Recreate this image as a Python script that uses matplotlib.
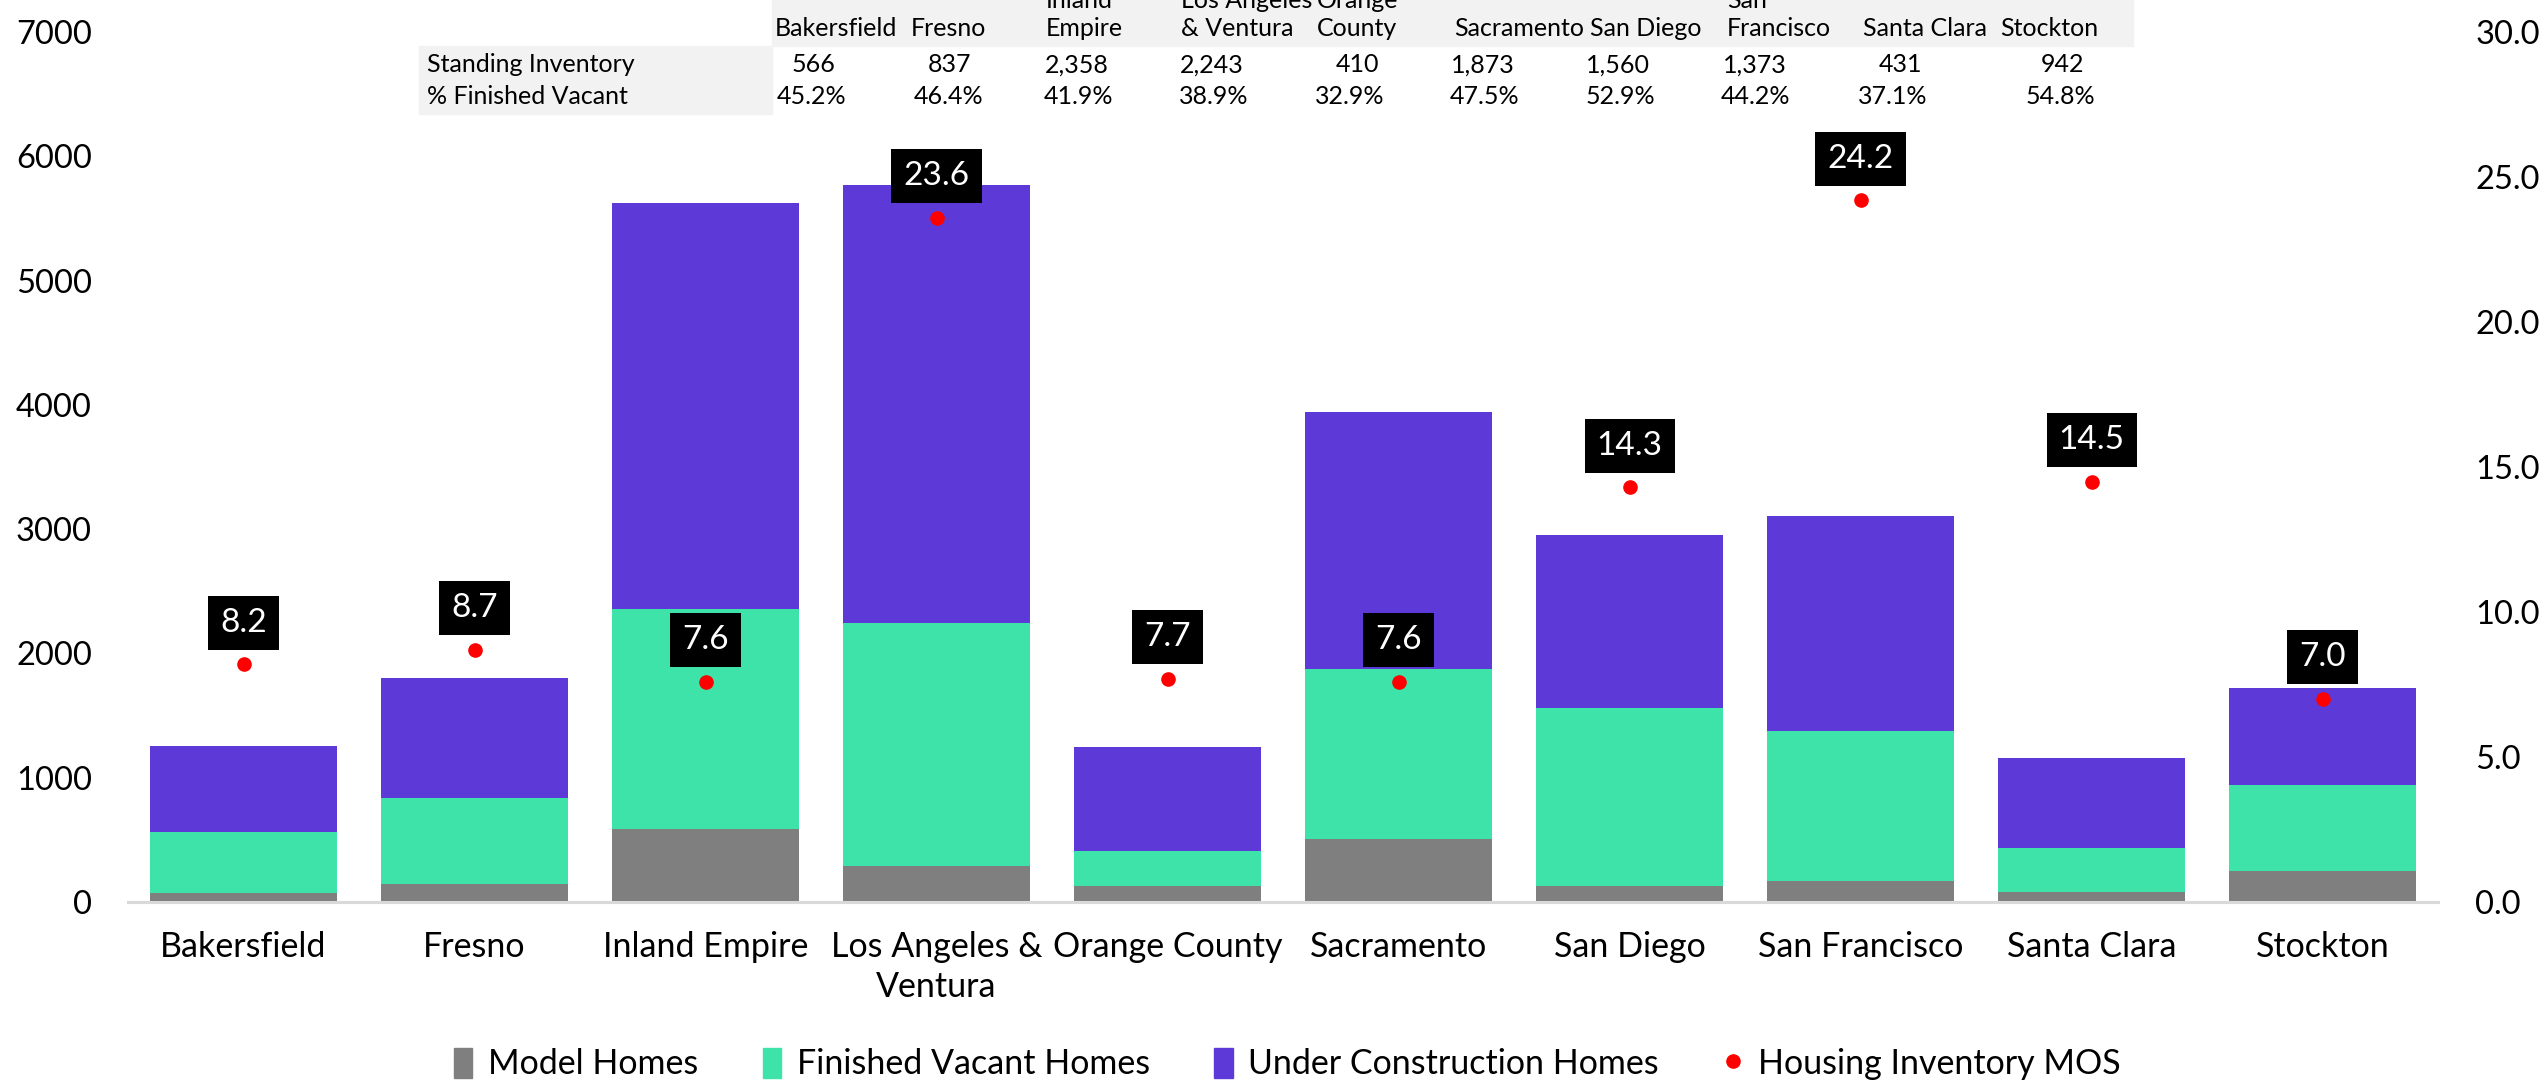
import numpy as np
import matplotlib
matplotlib.use("Agg")
import matplotlib.pyplot as plt
from matplotlib.patches import Patch, Rectangle
from matplotlib.lines import Line2D

plt.rcParams['font.family'] = ['Lato', 'DejaVu Sans']

# data
cities = ["Bakersfield", "Fresno", "Inland Empire", "Los Angeles &\nVentura", "Orange County",
          "Sacramento", "San Diego", "San Francisco", "Santa Clara", "Stockton"]
table_heads = ["Bakersfield", "Fresno", "Inland\nEmpire", "Los Angeles\n& Ventura", "Orange\nCounty",
               "Sacramento", "San Diego", "San\nFrancisco", "Santa Clara", "Stockton"]
model_homes = [75, 148, 588, 290, 129, 508, 129, 172, 80, 250]
finished_vacant = [491, 689, 1770, 1953, 281, 1365, 1431, 1201, 351, 692]
under_construction = [686, 967, 3270, 3523, 836, 2070, 1389, 1733, 731, 777]
mos = [8.2, 8.7, 7.6, 23.6, 7.7, 7.6, 14.3, 24.2, 14.5, 7.0]
standing_inv = ["566", "837", "2,358", "2,243", "410", "1,873", "1,560", "1,373", "431", "942"]
pct_vacant = ["45.2%", "46.4%", "41.9%", "38.9%", "32.9%", "47.5%", "52.9%", "44.2%", "37.1%", "54.8%"]

c_model = "#7f7f7f"
c_fin = "#3de3a8"
c_uc = "#5d3ad7"
c_mos = "#ff0000"

W, H = 2547, 1088
fig = plt.figure(figsize=(W / 100, H / 100), dpi=100)

# pixel helpers for figure coords
fx = lambda px: px / W
fy = lambda py: (H - py) / H

ax = fig.add_axes([fx(128), fy(902), (2438 - 128) / W, (902 - 32) / H])
x = np.arange(len(cities))
m = np.array(model_homes)
f = np.array(finished_vacant)
u = np.array(under_construction)
bw = 0.81
ax.bar(x, m, bw, color=c_model, label="Model Homes")
ax.bar(x, f, bw, bottom=m, color=c_fin, label="Finished Vacant Homes")
ax.bar(x, u, bw, bottom=m + f, color=c_uc, label="Under Construction Homes")

ax.set_xlim(-0.5, len(cities) - 0.5)
ax.set_ylim(0, 7000)
ax.set_yticks(range(0, 7001, 1000))
ax.set_xticks(x)
ax.set_xticklabels(cities, linespacing=1.3, fontsize=24.5)
for s in ["top", "right", "left"]:
    ax.spines[s].set_visible(False)
ax.spines["bottom"].set_color("#d9d9d9")
ax.spines["bottom"].set_linewidth(2.2)
ax.tick_params(axis="y", length=0, labelsize=23.5, pad=26)
ax.tick_params(axis="x", length=0, pad=21)

ax2 = ax.twinx()
ax2.set_ylim(0, 30)
ax2.set_yticks(np.arange(0, 30.1, 5))
ax2.set_yticklabels([f"{v:.1f}" for v in np.arange(0, 30.1, 5)])
for s in ax2.spines.values():
    s.set_visible(False)
ax2.tick_params(axis="y", length=0, labelsize=23.5, pad=27)
ax2.plot(x, mos, "o", color=c_mos, ms=9.5, linestyle="none")
for xi, v in zip(x, mos):
    ax2.annotate(f"{v:.1f}", (xi, v), xytext=(0, 30), textcoords="offset points",
                 ha="center", va="center", color="white", fontsize=24,
                 bbox=dict(boxstyle="square,pad=0.36", fc="black", ec="none"))

# table on top
fig.patches.append(Rectangle((fx(772), fy(46)), (2133 - 772) / W, 46 / H,
                             transform=fig.transFigure, color="#f2f2f2", zorder=0))
fig.patches.append(Rectangle((fx(419), fy(114)), (772 - 419) / W, (114 - 46) / H,
                             transform=fig.transFigure, color="#f2f2f2", zorder=0))
head_left = [775, 911, 1046, 1181, 1317, 1454, 1590, 1727, 1863, 2000]
inv_right = [835, 971, 1109, 1244, 1379, 1515, 1650, 1787, 1922, 2084]
pct_right = [846, 983, 1113, 1248, 1384, 1519, 1655, 1790, 1927, 2095]
tfs = 18
for hl, ir, pr, h, s_inv, p in zip(head_left, inv_right, pct_right, table_heads, standing_inv, pct_vacant):
    if "\n" in h:
        top, bot = h.split("\n")
        fig.text(fx(hl), fy(1), top, ha="left", va="center", fontsize=tfs)
        fig.text(fx(hl), fy(29), bot, ha="left", va="center", fontsize=tfs)
    else:
        fig.text(fx(hl), fy(29), h, ha="left", va="center", fontsize=tfs)
    fig.text(fx(ir), fy(65), s_inv, ha="right", va="center", fontsize=tfs)
    fig.text(fx(pr), fy(97), p, ha="right", va="center", fontsize=tfs)
fig.text(fx(427), fy(65), "Standing Inventory", ha="left", va="center", fontsize=tfs)
fig.text(fx(427), fy(97), "% Finished Vacant", ha="left", va="center", fontsize=tfs)

handles = [Patch(color=c_model), Patch(color=c_fin), Patch(color=c_uc),
           Line2D([], [], marker="o", color=c_mos, ls="none", ms=9.5)]
labels = ["Model Homes", "Finished Vacant Homes", "Under Construction Homes", "Housing Inventory MOS"]
fig.legend(handles, labels, loc="center", bbox_to_anchor=(fx(1287), fy(1064)), ncol=4,
           frameon=False, fontsize=24.5, handlelength=0.55, handleheight=1.0,
           handletextpad=0.45, columnspacing=1.9)

fig.savefig("out.png", dpi=100)
